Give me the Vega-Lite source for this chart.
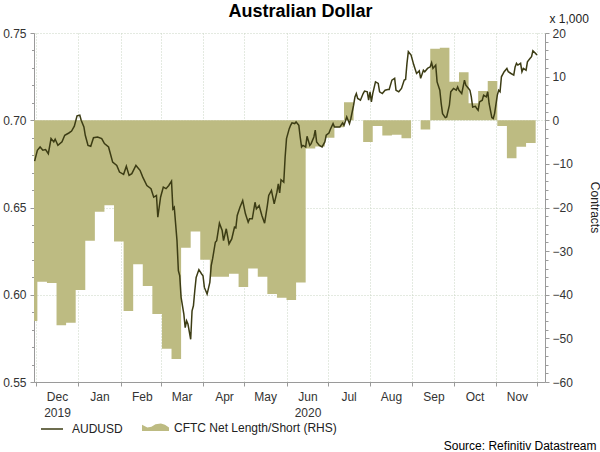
{
  "$schema": "https://vega.github.io/schema/vega-lite/v6.json",
  "width": 511,
  "height": 349,
  "autosize": {"type": "none"},
  "padding": {"left": 34, "top": 33, "right": 55, "bottom": 70},
  "title": {
    "text": "Australian Dollar",
    "font": "Liberation Sans",
    "fontSize": 18,
    "fontWeight": "bold",
    "color": "#000000",
    "anchor": "middle",
    "frame": "group",
    "dx": 11,
    "offset": -23,
    "baseline": "alphabetic"
  },
  "datasets": {
    "cftc": [
      {"date": "2019-11-25", "net": -46},
      {"date": "2019-12-02", "net": -37},
      {"date": "2019-12-09", "net": -37.3},
      {"date": "2019-12-16", "net": -47},
      {"date": "2019-12-23", "net": -46.4},
      {"date": "2019-12-30", "net": -38.9},
      {"date": "2020-01-06", "net": -27.6},
      {"date": "2020-01-13", "net": -21},
      {"date": "2020-01-20", "net": -19.5},
      {"date": "2020-01-27", "net": -27.8},
      {"date": "2020-02-03", "net": -43.7},
      {"date": "2020-02-10", "net": -33},
      {"date": "2020-02-17", "net": -38},
      {"date": "2020-02-24", "net": -44.4},
      {"date": "2020-03-02", "net": -52.4},
      {"date": "2020-03-09", "net": -54.7},
      {"date": "2020-03-16", "net": -29.2},
      {"date": "2020-03-23", "net": -25.5},
      {"date": "2020-03-30", "net": -32},
      {"date": "2020-04-06", "net": -35.9},
      {"date": "2020-04-13", "net": -35.9},
      {"date": "2020-04-20", "net": -35.2},
      {"date": "2020-04-27", "net": -38.2},
      {"date": "2020-05-04", "net": -34},
      {"date": "2020-05-11", "net": -35.9},
      {"date": "2020-05-18", "net": -39.8},
      {"date": "2020-05-25", "net": -40.7},
      {"date": "2020-06-01", "net": -41.2},
      {"date": "2020-06-08", "net": -37.2},
      {"date": "2020-06-15", "net": -6.5},
      {"date": "2020-06-22", "net": -6},
      {"date": "2020-06-29", "net": -4},
      {"date": "2020-07-06", "net": -1.6},
      {"date": "2020-07-13", "net": 4.1},
      {"date": "2020-07-20", "net": 0},
      {"date": "2020-07-27", "net": -5},
      {"date": "2020-08-03", "net": -1.3},
      {"date": "2020-08-10", "net": -3.5},
      {"date": "2020-08-17", "net": -3.3},
      {"date": "2020-08-24", "net": -4.1},
      {"date": "2020-08-31", "net": 0},
      {"date": "2020-09-07", "net": -2.1},
      {"date": "2020-09-14", "net": 16.4},
      {"date": "2020-09-21", "net": 16.6},
      {"date": "2020-09-28", "net": 8.8},
      {"date": "2020-10-05", "net": 11},
      {"date": "2020-10-12", "net": 3.9},
      {"date": "2020-10-19", "net": 6.7},
      {"date": "2020-10-26", "net": 9},
      {"date": "2020-11-02", "net": -1.3},
      {"date": "2020-11-09", "net": -8.7},
      {"date": "2020-11-16", "net": -6.1},
      {"date": "2020-11-23", "net": -5.2},
      {"date": "2020-11-30", "net": -5.2}
    ],
    "audusd": [
      {"date": "2019-11-30", "price": 0.6766},
      {"date": "2019-12-02", "price": 0.6828},
      {"date": "2019-12-04", "price": 0.6847},
      {"date": "2019-12-06", "price": 0.6828},
      {"date": "2019-12-08", "price": 0.6832},
      {"date": "2019-12-10", "price": 0.6808},
      {"date": "2019-12-12", "price": 0.6895},
      {"date": "2019-12-14", "price": 0.6876},
      {"date": "2019-12-15", "price": 0.6891},
      {"date": "2019-12-17", "price": 0.6856},
      {"date": "2019-12-20", "price": 0.6876},
      {"date": "2019-12-22", "price": 0.6914},
      {"date": "2019-12-25", "price": 0.6927},
      {"date": "2019-12-27", "price": 0.6938},
      {"date": "2019-12-29", "price": 0.6966},
      {"date": "2019-12-31", "price": 0.7025},
      {"date": "2020-01-02", "price": 0.7029},
      {"date": "2020-01-03", "price": 0.7},
      {"date": "2020-01-05", "price": 0.6962},
      {"date": "2020-01-06", "price": 0.6914},
      {"date": "2020-01-08", "price": 0.6856},
      {"date": "2020-01-10", "price": 0.6851},
      {"date": "2020-01-12", "price": 0.69},
      {"date": "2020-01-15", "price": 0.6904},
      {"date": "2020-01-18", "price": 0.6895},
      {"date": "2020-01-20", "price": 0.6866},
      {"date": "2020-01-23", "price": 0.6847},
      {"date": "2020-01-24", "price": 0.6818},
      {"date": "2020-01-26", "price": 0.676},
      {"date": "2020-01-29", "price": 0.6741},
      {"date": "2020-01-31", "price": 0.6703},
      {"date": "2020-02-03", "price": 0.669},
      {"date": "2020-02-05", "price": 0.6736},
      {"date": "2020-02-07", "price": 0.6684},
      {"date": "2020-02-09", "price": 0.6694},
      {"date": "2020-02-12", "price": 0.6741},
      {"date": "2020-02-15", "price": 0.6713},
      {"date": "2020-02-17", "price": 0.6674},
      {"date": "2020-02-20", "price": 0.6626},
      {"date": "2020-02-23", "price": 0.6608},
      {"date": "2020-02-25", "price": 0.6559},
      {"date": "2020-02-27", "price": 0.6569},
      {"date": "2020-02-28", "price": 0.6444},
      {"date": "2020-03-01", "price": 0.6559},
      {"date": "2020-03-03", "price": 0.6617},
      {"date": "2020-03-05", "price": 0.6608},
      {"date": "2020-03-07", "price": 0.6626},
      {"date": "2020-03-09", "price": 0.6651},
      {"date": "2020-03-10", "price": 0.6492},
      {"date": "2020-03-11", "price": 0.6502},
      {"date": "2020-03-13", "price": 0.631},
      {"date": "2020-03-14", "price": 0.6138},
      {"date": "2020-03-15", "price": 0.6109},
      {"date": "2020-03-16", "price": 0.5985},
      {"date": "2020-03-18", "price": 0.5889},
      {"date": "2020-03-19", "price": 0.5812},
      {"date": "2020-03-20", "price": 0.5851},
      {"date": "2020-03-21", "price": 0.5832},
      {"date": "2020-03-23", "price": 0.5745},
      {"date": "2020-03-24", "price": 0.5908},
      {"date": "2020-03-25", "price": 0.5937},
      {"date": "2020-03-26", "price": 0.6023},
      {"date": "2020-03-27", "price": 0.6099},
      {"date": "2020-03-29", "price": 0.6144},
      {"date": "2020-03-31", "price": 0.6119},
      {"date": "2020-04-01", "price": 0.6109},
      {"date": "2020-04-02", "price": 0.6042},
      {"date": "2020-04-04", "price": 0.6004},
      {"date": "2020-04-06", "price": 0.6071},
      {"date": "2020-04-07", "price": 0.6167},
      {"date": "2020-04-08", "price": 0.6205},
      {"date": "2020-04-10", "price": 0.6301},
      {"date": "2020-04-11", "price": 0.631},
      {"date": "2020-04-13", "price": 0.641},
      {"date": "2020-04-15", "price": 0.6368},
      {"date": "2020-04-16", "price": 0.631},
      {"date": "2020-04-18", "price": 0.6378},
      {"date": "2020-04-20", "price": 0.6291},
      {"date": "2020-04-22", "price": 0.632},
      {"date": "2020-04-24", "price": 0.6387},
      {"date": "2020-04-25", "price": 0.6383},
      {"date": "2020-04-26", "price": 0.6454},
      {"date": "2020-04-28", "price": 0.6502},
      {"date": "2020-04-30", "price": 0.654},
      {"date": "2020-05-02", "price": 0.6464},
      {"date": "2020-05-04", "price": 0.6416},
      {"date": "2020-05-05", "price": 0.6435},
      {"date": "2020-05-07", "price": 0.6435},
      {"date": "2020-05-09", "price": 0.653},
      {"date": "2020-05-10", "price": 0.6492},
      {"date": "2020-05-12", "price": 0.6511},
      {"date": "2020-05-14", "price": 0.6454},
      {"date": "2020-05-16", "price": 0.641},
      {"date": "2020-05-18", "price": 0.6511},
      {"date": "2020-05-19", "price": 0.6569},
      {"date": "2020-05-21", "price": 0.6598},
      {"date": "2020-05-23", "price": 0.6521},
      {"date": "2020-05-25", "price": 0.6588},
      {"date": "2020-05-26", "price": 0.6636},
      {"date": "2020-05-27", "price": 0.6584},
      {"date": "2020-05-28", "price": 0.6659},
      {"date": "2020-05-30", "price": 0.6645},
      {"date": "2020-05-31", "price": 0.6789},
      {"date": "2020-06-01", "price": 0.6895},
      {"date": "2020-06-03", "price": 0.6952},
      {"date": "2020-06-04", "price": 0.6971},
      {"date": "2020-06-05", "price": 0.6985},
      {"date": "2020-06-07", "price": 0.6981},
      {"date": "2020-06-08", "price": 0.699},
      {"date": "2020-06-10", "price": 0.6971},
      {"date": "2020-06-11", "price": 0.6904},
      {"date": "2020-06-12", "price": 0.6847},
      {"date": "2020-06-13", "price": 0.6856},
      {"date": "2020-06-15", "price": 0.6847},
      {"date": "2020-06-16", "price": 0.6908},
      {"date": "2020-06-18", "price": 0.6856},
      {"date": "2020-06-19", "price": 0.6866},
      {"date": "2020-06-21", "price": 0.6904},
      {"date": "2020-06-22", "price": 0.6943},
      {"date": "2020-06-23", "price": 0.6876},
      {"date": "2020-06-25", "price": 0.6856},
      {"date": "2020-06-27", "price": 0.6847},
      {"date": "2020-06-29", "price": 0.6876},
      {"date": "2020-06-30", "price": 0.6914},
      {"date": "2020-07-02", "price": 0.6927},
      {"date": "2020-07-03", "price": 0.6947},
      {"date": "2020-07-05", "price": 0.6981},
      {"date": "2020-07-06", "price": 0.6962},
      {"date": "2020-07-08", "price": 0.6962},
      {"date": "2020-07-10", "price": 0.6962},
      {"date": "2020-07-12", "price": 0.6985},
      {"date": "2020-07-13", "price": 0.6971},
      {"date": "2020-07-15", "price": 0.7019},
      {"date": "2020-07-16", "price": 0.7},
      {"date": "2020-07-17", "price": 0.6981},
      {"date": "2020-07-18", "price": 0.701},
      {"date": "2020-07-20", "price": 0.7086},
      {"date": "2020-07-21", "price": 0.7134},
      {"date": "2020-07-22", "price": 0.7153},
      {"date": "2020-07-23", "price": 0.7125},
      {"date": "2020-07-25", "price": 0.7115},
      {"date": "2020-07-27", "price": 0.7153},
      {"date": "2020-07-28", "price": 0.7167},
      {"date": "2020-07-30", "price": 0.7163},
      {"date": "2020-07-31", "price": 0.7115},
      {"date": "2020-08-01", "price": 0.7163},
      {"date": "2020-08-02", "price": 0.7105},
      {"date": "2020-08-03", "price": 0.7153},
      {"date": "2020-08-05", "price": 0.722},
      {"date": "2020-08-07", "price": 0.7211},
      {"date": "2020-08-08", "price": 0.7163},
      {"date": "2020-08-10", "price": 0.7153},
      {"date": "2020-08-12", "price": 0.7172},
      {"date": "2020-08-14", "price": 0.7176},
      {"date": "2020-08-15", "price": 0.7176},
      {"date": "2020-08-17", "price": 0.723},
      {"date": "2020-08-19", "price": 0.724},
      {"date": "2020-08-20", "price": 0.7172},
      {"date": "2020-08-22", "price": 0.7163},
      {"date": "2020-08-24", "price": 0.7182},
      {"date": "2020-08-26", "price": 0.723},
      {"date": "2020-08-27", "price": 0.7234},
      {"date": "2020-08-28", "price": 0.7326},
      {"date": "2020-08-29", "price": 0.7393},
      {"date": "2020-08-31", "price": 0.7374},
      {"date": "2020-09-02", "price": 0.7316},
      {"date": "2020-09-04", "price": 0.7268},
      {"date": "2020-09-06", "price": 0.7283},
      {"date": "2020-09-07", "price": 0.724},
      {"date": "2020-09-09", "price": 0.7287},
      {"date": "2020-09-10", "price": 0.7278},
      {"date": "2020-09-12", "price": 0.7297},
      {"date": "2020-09-14", "price": 0.7306},
      {"date": "2020-09-15", "price": 0.733},
      {"date": "2020-09-16", "price": 0.7297},
      {"date": "2020-09-18", "price": 0.7316},
      {"date": "2020-09-19", "price": 0.722},
      {"date": "2020-09-21", "price": 0.7172},
      {"date": "2020-09-22", "price": 0.7096},
      {"date": "2020-09-23", "price": 0.7038},
      {"date": "2020-09-25", "price": 0.7015},
      {"date": "2020-09-26", "price": 0.7019},
      {"date": "2020-09-28", "price": 0.7086},
      {"date": "2020-09-29", "price": 0.7163},
      {"date": "2020-10-01", "price": 0.7182},
      {"date": "2020-10-03", "price": 0.7172},
      {"date": "2020-10-04", "price": 0.7191},
      {"date": "2020-10-05", "price": 0.7172},
      {"date": "2020-10-07", "price": 0.7153},
      {"date": "2020-10-08", "price": 0.7191},
      {"date": "2020-10-09", "price": 0.723},
      {"date": "2020-10-10", "price": 0.7201},
      {"date": "2020-10-12", "price": 0.7182},
      {"date": "2020-10-13", "price": 0.7172},
      {"date": "2020-10-14", "price": 0.7134},
      {"date": "2020-10-15", "price": 0.7076},
      {"date": "2020-10-17", "price": 0.708},
      {"date": "2020-10-18", "price": 0.7067},
      {"date": "2020-10-19", "price": 0.7057},
      {"date": "2020-10-20", "price": 0.7105},
      {"date": "2020-10-22", "price": 0.7115},
      {"date": "2020-10-23", "price": 0.7144},
      {"date": "2020-10-25", "price": 0.7134},
      {"date": "2020-10-26", "price": 0.7163},
      {"date": "2020-10-27", "price": 0.7096},
      {"date": "2020-10-29", "price": 0.7015},
      {"date": "2020-10-30", "price": 0.701},
      {"date": "2020-10-31", "price": 0.7038},
      {"date": "2020-11-02", "price": 0.7144},
      {"date": "2020-11-03", "price": 0.7172},
      {"date": "2020-11-04", "price": 0.7163},
      {"date": "2020-11-05", "price": 0.7249},
      {"date": "2020-11-07", "price": 0.7278},
      {"date": "2020-11-09", "price": 0.7297},
      {"date": "2020-11-10", "price": 0.7278},
      {"date": "2020-11-12", "price": 0.7268},
      {"date": "2020-11-14", "price": 0.7259},
      {"date": "2020-11-15", "price": 0.7306},
      {"date": "2020-11-16", "price": 0.7326},
      {"date": "2020-11-17", "price": 0.7316},
      {"date": "2020-11-19", "price": 0.7326},
      {"date": "2020-11-20", "price": 0.7278},
      {"date": "2020-11-21", "price": 0.7297},
      {"date": "2020-11-23", "price": 0.7287},
      {"date": "2020-11-24", "price": 0.7335},
      {"date": "2020-11-26", "price": 0.7355},
      {"date": "2020-11-27", "price": 0.7364},
      {"date": "2020-11-28", "price": 0.7398},
      {"date": "2020-11-30", "price": 0.7383},
      {"date": "2020-12-01", "price": 0.7374}
    ]
  },
  "layer": [
    {
      "data": {"name": "cftc"},
      "mark": {"type": "area", "interpolate": "step-after", "clip": true},
      "encoding": {
        "x": {
          "field": "date",
          "type": "temporal",
          "scale": {
            "type": "utc",
            "domain": [
              {"year": 2019, "month": 11, "date": 29, "hours": 13, "utc": true},
              {"year": 2020, "month": 12, "date": 6, "hours": 20, "utc": true}
            ]
          },
          "axis": {
            "orient": "bottom",
            "tickCount": {"interval": "month", "step": 1},
            "labelExpr": "(utcyear(datum.value) == 2020 && utcmonth(datum.value) == 11) ? '' : [utcFormat(datum.value, '%b'), (utcyear(datum.value) == 2019 && utcmonth(datum.value) == 11) ? '2019' : (utcmonth(datum.value) == 5 ? '2020' : '')]",
            "labelOffset": 21,
            "labelPadding": 5,
            "labelLineHeight": 16,
            "labelFlush": false,
            "labelOverlap": false,
            "labelBaseline": "top",
            "tickSize": 4,
            "grid": true,
            "title": "Source: Refinitiv Datastream",
            "titleX": 562,
            "titleY": 67,
            "titleAlign": "right",
            "titleBaseline": "alphabetic",
            "titleFontWeight": "normal",
            "titleFontSize": 12,
            "titleColor": "#000000"
          }
        },
        "y": {
          "field": "net",
          "type": "quantitative",
          "scale": {"domain": [-60, 20], "nice": false},
          "axis": {
            "orient": "right",
            "values": [-60, -58, -56, -54, -52, -50, -48, -46, -44, -42, -40, -38, -36, -34, -32, -30, -28, -26, -24, -22, -20, -18, -16, -14, -12, -10, -8, -6, -4, -2, 0, 2, 4, 6, 8, 10, 12, 14, 16, 18, 20],
            "labelExpr": "datum.value % 10 == 0 ? format(datum.value, 'd') : ''",
            "labelOverlap": false,
            "labelFlush": false,
            "labelPadding": 3,
            "tickSize": {"condition": {"test": "datum.value % 10 != 0", "value": 3}, "value": 4},
            "grid": false,
            "title": "Contracts",
            "titleAngle": 90,
            "titleX": 49,
            "titleY": 174,
            "titleAlign": "center",
            "titleBaseline": "middle",
            "titleFontWeight": "normal",
            "titleFontSize": 12,
            "titleColor": "#222222"
          }
        },
        "fill": {
          "datum": "CFTC Net Length/Short (RHS)",
          "scale": {"range": ["#bdbb82"]},
          "legend": {
            "title": null,
            "orient": "none",
            "legendX": 108,
            "legendY": 381,
            "padding": 0,
            "symbolType": "M-1,0.25L-1,-0.2L-0.6,0L-0.3,-0.05L0,-0.25L0.4,-0.3L0.7,-0.2L1,0L1,0.25Z",
            "symbolSize": 729,
            "symbolStrokeWidth": 0,
            "labelOffset": 5,
            "labelLimit": 300
          }
        }
      }
    },
    {
      "data": {"name": "audusd"},
      "mark": {"type": "line", "strokeWidth": 1.5, "clip": true},
      "encoding": {
        "x": {
          "field": "date",
          "type": "temporal",
          "axis": {
            "orient": "top",
            "domain": false,
            "ticks": false,
            "labels": false,
            "grid": false,
            "title": "x 1,000",
            "titleX": 515,
            "titleY": -11,
            "titleAlign": "left",
            "titleBaseline": "alphabetic",
            "titleFontWeight": "normal",
            "titleFontSize": 12,
            "titleColor": "#222222"
          }
        },
        "y": {
          "field": "price",
          "type": "quantitative",
          "scale": {"domain": [0.55, 0.75], "nice": false, "zero": false},
          "axis": {
            "orient": "left",
            "values": [0.55, 0.56, 0.57, 0.58, 0.59, 0.6, 0.61, 0.62, 0.63, 0.64, 0.65, 0.66, 0.67, 0.68, 0.69, 0.7, 0.71, 0.72, 0.73, 0.74, 0.75],
            "labelExpr": "round(datum.value * 100) % 5 == 0 ? format(datum.value, '.2f') : ''",
            "labelOverlap": false,
            "labelFlush": false,
            "labelPadding": 4,
            "tickSize": {"condition": {"test": "round(datum.value * 100) % 5 != 0", "value": 2.5}, "value": 4},
            "grid": true,
            "gridOpacity": {"condition": {"test": "round(datum.value * 100) % 5 != 0", "value": 0}, "value": 1},
            "title": null
          }
        },
        "stroke": {
          "datum": "AUDUSD",
          "scale": {"range": ["#3c3c14"]},
          "legend": {
            "title": null,
            "orient": "none",
            "legendX": 6,
            "legendY": 384,
            "padding": 0,
            "symbolType": "stroke",
            "symbolSize": 484,
            "symbolStrokeWidth": 1.5,
            "labelOffset": 8
          }
        }
      }
    }
  ],
  "resolve": {
    "scale": {"y": "independent"},
    "axis": {"x": "independent", "y": "independent"}
  },
  "config": {
    "font": "Liberation Sans",
    "view": {"stroke": null},
    "axis": {
      "labelFont": "Liberation Sans",
      "labelFontSize": 12,
      "labelColor": "#333333",
      "titleFont": "Liberation Sans",
      "domainColor": "#9a9a9a",
      "tickColor": "#9a9a9a",
      "gridColor": "#c9d4c3",
      "gridDash": [1, 2],
      "gridWidth": 1
    },
    "legend": {
      "labelFont": "Liberation Sans",
      "labelFontSize": 12,
      "labelColor": "#222222"
    }
  }
}
